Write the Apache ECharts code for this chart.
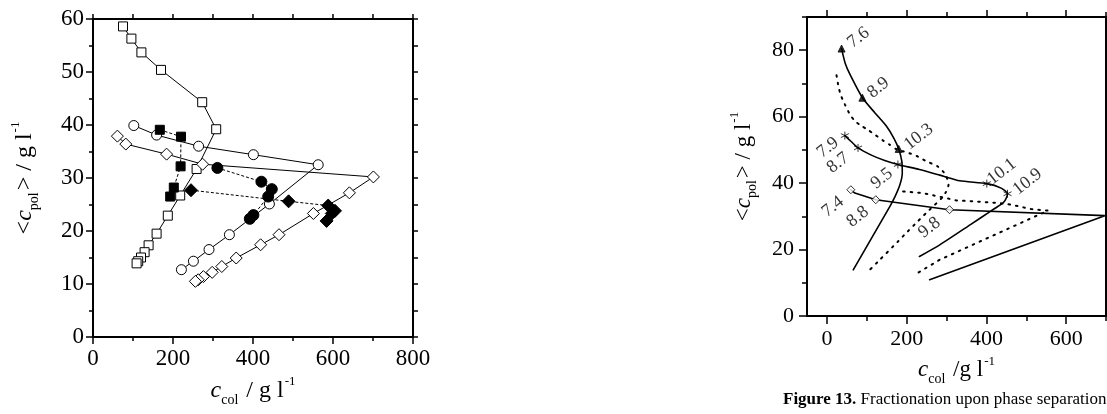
<!DOCTYPE html>
<html><head><meta charset="utf-8">
<script src="https://cdn.jsdelivr.net/npm/echarts@6/dist/echarts.min.js"></script>
<style>html,body{margin:0;padding:0;background:#fff}#c{width:1107px;height:414px}</style>
</head><body><div id="c"></div>
<script>
// ---------- DATA : left panel ----------
const leftOpenSquare  = [[75,58.6],[96,56.3],[121,53.7],[170,50.4],[273,44.3],[308,39.2],[259,31.7],[218,26.7],[187,22.9],[159,19.5],[139,17.3],[129,16.0],[120,15.0],[113,14.3],[109,13.9]];
const leftOpenCircle  = [[102,39.9],[159,38.1],[264,36.0],[401,34.4],[563,32.5],[441,25.1],[341,19.3],[290,16.5],[251,14.3],[221,12.7]];
const leftOpenDiamond = [[61,37.9],[82,36.4],[184,34.5],[274,32.6],[701,30.2],[641,27.2],[551,23.3],[465,19.3],[419,17.4],[358,14.9],[322,13.3],[298,12.2],[276,11.4],[263,10.8],[256,10.5]];
const leftFillSquare  = [[167,39.1],[220,37.8],[219,32.2],[202,28.2],[193,26.5]];
const leftFillCircle  = [[311,31.9],[421,29.3],[447,27.9],[438,26.5],[401,23.0],[392,22.3]];
const leftFillDiamond = [[245,27.7],[489,25.6],[588,24.8],[605,23.8],[597,23.3],[584,21.9]];

// ---------- DATA : right panel ----------
const rightTriLine   = [[36.7,80.5],[46,76],[57.5,72.8],[89,65.7],[120,61.2],[149,57.2],[168,53.5],[180,50.3],[188,46.5],[189,43],[183,39.5],[171,36],[158,33],[66,13.9]];
const rightTriMarks  = [[36.7,80.5],[89,65.7],[180,50.3]];
const rightTriLabels = ['7.6','8.9','10.3'];
const rightStarLine  = [[45,54.3],[60,52.6],[78,50.6],[110,48.5],[145,46.8],[178,45.6],[232,44.1],[283,42.4],[333,40.7],[401,39.85],[437,38.5],[453,36.8],[448,35],[441,34],[410,31.5],[360,27.5],[283,21.4],[232,17.9]];
const rightStarMarks = [[45,54.3],[78,50.6],[178,45.6],[401,39.85],[453,36.8]];
const rightStarLabels= ['7.9','8.7','9.5','10.1','10.9'];
const rightDiaLine   = [[60,38],[70,37],[122.5,35],[307.5,32],[697,30.2],[257.5,10.9]];
const rightDiaMarks  = [[60,38],[122.5,35],[307.5,32]];
const rightDiaLabels = ['7.4','8.8','9.8'];
const rightDotA = [[24,72.5],[28,69.7],[34,66.7],[45,63.7],[57.5,60.7],[70,58.7],[87,57.2],[103,56],[120,54.6],[141,52.8],[157,51.6],[174,50.2],[207,49],[228,48],[249,46.6],[278,45],[298,42.5],[305,39.5],[298,37.2],[288,35.5],[249,31],[228,28.5],[203,25.5],[178,22.4],[132.5,16.9],[107.5,13.9]];
const rightDotB = [[191,37.5],[240,37],[299,35.5],[324,34.8],[370,34.5],[432,34],[462,33.5],[512,32.2],[555,31.7],[532,30.5],[282.5,16.9],[220,12.4]];
const rightXLabels = [0,200,400,600];
const rightXMinor  = [100,300,500,700];
const rightYLabels = [0,20,40,60,80];
const rightYMinor  = [10,30,50,70,90];

// ---------- STYLE ----------
const FONT = 'Liberation Serif';
const BLACK = '#000';
function rich(size){
  return {
    n:{fontFamily:FONT,fontSize:size,color:BLACK,lineHeight:size+8},
    i:{fontFamily:FONT,fontSize:size,fontStyle:'italic',color:BLACK,lineHeight:size+8},
    sub:{fontFamily:FONT,fontSize:Math.round(size*0.6),color:BLACK,verticalAlign:'bottom',lineHeight:Math.round(size*0.6),padding:[0,2,0,0]},
    sup:{fontFamily:FONT,fontSize:Math.round(size*0.55),color:BLACK,verticalAlign:'top',lineHeight:Math.round(size*0.55),padding:[0,0,0,1]}
  };
}
const lineAx = {show:true,onZero:false,lineStyle:{color:BLACK,width:2}};
const noLine = {show:false,onZero:false};
function tickStyle(len){return {show:true,inside:false,length:len,lineStyle:{color:BLACK,width:1.5}};}

const xAxes = [], yAxes = [];
// left grid 0
xAxes.push({gridIndex:0,type:'value',min:0,max:800,interval:200,position:'bottom',
  axisLine:lineAx,axisTick:tickStyle(7),minorTick:{show:true,splitNumber:2,length:4,lineStyle:{color:BLACK,width:1.5}},
  splitLine:{show:false},minorSplitLine:{show:false},
  axisLabel:{fontFamily:FONT,fontSize:23,color:BLACK,margin:10},
  name:'{i|c}{sub|col}{n| / g l}{sup|-1}',nameLocation:'middle',nameGap:38,nameTextStyle:{rich:rich(24)}});
xAxes.push({gridIndex:0,type:'value',min:0,max:800,interval:100,position:'top',
  axisLine:lineAx,axisTick:tickStyle(5),splitLine:{show:false},axisLabel:{show:false}});
yAxes.push({gridIndex:0,type:'value',min:0,max:60,interval:10,position:'left',
  axisLine:lineAx,axisTick:tickStyle(7),minorTick:{show:true,splitNumber:2,length:4,lineStyle:{color:BLACK,width:1.5}},
  splitLine:{show:false},minorSplitLine:{show:false},
  axisLabel:{fontFamily:FONT,fontSize:23,color:BLACK,margin:9},
  name:'{n|<}{i|c}{sub|pol}{n|> / g l}{sup|-1}',nameLocation:'middle',nameRotate:90,nameGap:52,nameTextStyle:{rich:rich(24)}});
yAxes.push({gridIndex:0,type:'value',min:0,max:60,interval:5,position:'right',
  axisLine:lineAx,axisTick:tickStyle(5),splitLine:{show:false},axisLabel:{show:false}});
// right grid 1
xAxes.push({gridIndex:1,type:'value',min:-50,max:700,position:'bottom',offset:0,
  axisLine:lineAx,axisTick:Object.assign(tickStyle(8),{customValues:rightXLabels}),splitLine:{show:false},
  axisLabel:{fontFamily:FONT,fontSize:22,color:BLACK,margin:12,customValues:rightXLabels},
  name:'{i|c}{sub|col}{n| /g l}{sup|-1}',nameLocation:'middle',nameGap:38,nameTextStyle:{rich:rich(23)}});
xAxes.push({gridIndex:1,type:'value',min:-50,max:700,position:'bottom',offset:0,
  axisLine:noLine,axisTick:Object.assign(tickStyle(5),{customValues:rightXMinor}),splitLine:{show:false},
  axisLabel:{show:false,customValues:rightXMinor}});
xAxes.push({gridIndex:1,type:'value',min:-50,max:700,position:'top',offset:0,
  axisLine:lineAx,axisTick:Object.assign(tickStyle(7),{customValues:rightXLabels}),splitLine:{show:false},
  axisLabel:{show:false,customValues:rightXLabels}});
xAxes.push({gridIndex:1,type:'value',min:-50,max:700,position:'top',offset:0,
  axisLine:noLine,axisTick:Object.assign(tickStyle(5),{customValues:rightXMinor}),splitLine:{show:false},
  axisLabel:{show:false,customValues:rightXMinor}});
yAxes.push({gridIndex:1,type:'value',min:0,max:90,position:'left',offset:0,
  axisLine:lineAx,axisTick:Object.assign(tickStyle(8),{customValues:rightYLabels}),splitLine:{show:false},
  axisLabel:{fontFamily:FONT,fontSize:22,color:BLACK,margin:13,customValues:rightYLabels},
  name:'{n|<}{i|c}{sub|pol}{n|> / g l}{sup|-1}',nameLocation:'middle',nameRotate:90,nameGap:48,nameTextStyle:{rich:rich(23)}});
yAxes.push({gridIndex:1,type:'value',min:0,max:90,position:'left',offset:0,
  axisLine:noLine,axisTick:Object.assign(tickStyle(5),{customValues:rightYMinor}),splitLine:{show:false},
  axisLabel:{show:false,customValues:rightYMinor}});
yAxes.push({gridIndex:1,type:'value',min:0,max:90,position:'right',offset:0,
  axisLine:lineAx,axisTick:{show:false},splitLine:{show:false},axisLabel:{show:false}});

function leftSeries(data,symbol,size,filled,dashed){
  return {type:'line',xAxisIndex:0,yAxisIndex:0,data:data,symbol:symbol,symbolSize:size,showSymbol:true,
    itemStyle:{color:filled?BLACK:'#fff',borderColor:BLACK,borderWidth:1},
    lineStyle:{color:BLACK,width:1,type:dashed?[3,2]:'solid'},emphasis:{disabled:true},animation:false,z:filled?4:3};
}
const series = [
  leftSeries(leftOpenSquare,'rect',9,false,false),
  leftSeries(leftOpenCircle,'circle',10,false,false),
  leftSeries(leftOpenDiamond,'diamond',12,false,false),
  leftSeries(leftFillSquare,'rect',9,true,true),
  leftSeries(leftFillCircle,'circle',11,true,true),
  leftSeries(leftFillDiamond,'diamond',13,true,true)
];
function rLine(data,dotted,smooth){
  return {type:'line',xAxisIndex:2,yAxisIndex:2,data:data,showSymbol:false,symbol:'none',smooth:smooth,
    lineStyle:{color:BLACK,width:dotted?2:1.6,type:dotted?[1.6,6]:'solid',cap:'round'},emphasis:{disabled:true},animation:false};
}
series.push(rLine(rightTriLine,false,0.2), rLine(rightStarLine,false,0.2), rLine(rightDiaLine,false,false),
            rLine(rightDotA,true,0.2), rLine(rightDotB,true,false));
// label placement: screen-space offsets converted into the rotated label frame
const ROT = 38, RAD = ROT*Math.PI/180, CS = Math.cos(RAD), SN = Math.sin(RAD);
function toLabelOffset(o){ return [o[0]*CS - o[1]*SN, o[0]*SN + o[1]*CS]; }
function rMarks(coords,labels,symbol,size,filled,offsets){
  return {type:'scatter',xAxisIndex:2,yAxisIndex:2,symbol:symbol,symbolSize:size,animation:false,emphasis:{disabled:true},z:5,
    itemStyle:{color:filled?BLACK:'#fff',borderColor:BLACK,borderWidth:1},
    data:coords.map((c,k)=>({value:c,label:{show:true,formatter:labels[k],position:'inside',offset:toLabelOffset(offsets[k]),rotate:ROT,
      fontFamily:FONT,fontSize:18,color:BLACK,align:'center',verticalAlign:'middle'}}))};
}
const ASTER = 'path://M0,-5L0,5M-4.33,-2.5L4.33,2.5M-4.33,2.5L4.33,-2.5';
series.push(rMarks(rightTriMarks,rightTriLabels,'triangle',7,true,[[17,-11],[16,-10],[20,-12]]));
const starSeries = rMarks(rightStarMarks,rightStarLabels,ASTER,8,false,[[-17,12],[-20,15],[-16,14],[15,-12],[20,-12]]);
starSeries.itemStyle = {color:'none',borderColor:BLACK,borderWidth:1};
series.push(starSeries);
series.push(rMarks(rightDiaMarks,rightDiaLabels,'diamond',8,false,[[-18,17],[-18,17],[-20,18]]));

const chart = echarts.init(document.getElementById('c'),null,{renderer:'canvas'});
chart.setOption({
  backgroundColor:'#fff',animation:false,
  grid:[{left:93,top:19,width:320,height:318},{left:807,top:17,width:299,height:299}],
  xAxis:xAxes,yAxis:yAxes,series:series,
  graphic:[{type:'text',left:783,top:391,style:{text:'{b|Figure 13.} Fractionation upon phase separation',
    font:'17px "Liberation Serif"',fill:BLACK,rich:{b:{fontFamily:FONT,fontWeight:'bold',fontSize:17,fill:BLACK}}}}]
});
</script></body></html>
